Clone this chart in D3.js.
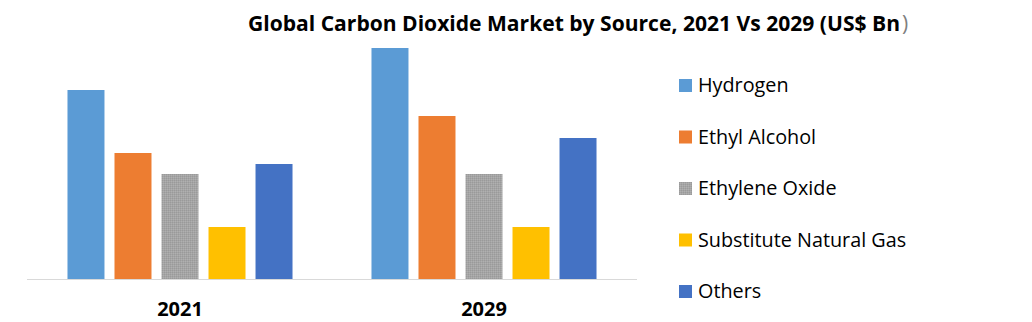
<!DOCTYPE html>
<html>
<head>
<meta charset="utf-8">
<script src="https://cdn.jsdelivr.net/npm/d3@7"></script>
<style>
  body { margin: 0; background: #fff; }
  svg text { font-family: "Open Sans", Lato, sans-serif; }
</style>
</head>
<body>
<div id="vis"></div>
<script>
// chart data (no axis so values are relative)
var years = ['2021', '2029'];
var sources = ['Hydrogen', 'Ethyl Alcohol', 'Ethylene Oxide', 'Substitute Natural Gas', 'Others'];
var values2021 = [189, 126, 105, 52, 115];
var values2029 = [231, 163, 105, 52, 141];
var colors = ['#5b9bd5', '#ed7d31', '#a5a5a5', '#ffc000', '#4472c4'];

var width = 1032;
var height = 322;
var baseY = 279;

var svg = d3.select('#vis')
  .append('svg')
  .attr('width', width)
  .attr('height', height);

// build rows from the arrays
var rows = years.map(function(y, i) {
  var vals = i === 0 ? values2021 : values2029;
  return { year: y, items: sources.map(function(s, j) { return { source: s, value: vals[j] }; }) };
});

var x0 = d3.scaleBand().domain(years).range([28, 636]);
var x1 = d3.scaleBand().domain(sources).range([0, x0.bandwidth()])
  .paddingInner(0.213).paddingOuter(0.84);
var y = d3.scaleLinear().domain([0, 231]).range([baseY, 48]);
var color = d3.scaleOrdinal().domain(sources).range(colors);

// stipple pattern for the gray bar
var defs = svg.append('defs');
var pat = defs.append('pattern')
  .attr('id', 'grayDots')
  .attr('width', 2).attr('height', 2)
  .attr('patternUnits', 'userSpaceOnUse');
pat.append('rect').attr('width', 2).attr('height', 2).attr('fill', '#a5a5a5');
pat.append('rect').attr('width', 1).attr('height', 1).attr('fill', '#9a9a9a');
pat.append('rect').attr('x', 1).attr('y', 1).attr('width', 1).attr('height', 1).attr('fill', '#b0b0b0');

function fillFor(s) {
  return s === 'Ethylene Oxide' ? 'url(#grayDots)' : color(s);
}

// title
svg.append('text')
  .attr('x', 248)
  .attr('y', 31)
  .attr('font-size', 21)
  .attr('font-weight', 'bold')
  .attr('fill', '#000')
  .attr('textLength', 652)
  .attr('lengthAdjust', 'spacingAndGlyphs')
  .text('Global Carbon Dioxide Market by Source, 2021 Vs 2029 (US$ Bn');
svg.append('text')
  .attr('x', 902)
  .attr('y', 31)
  .attr('font-size', 21)
  .attr('fill', '#7f7f7f')
  .text(')');

// bars
var groups = svg.selectAll('.group')
  .data(rows)
  .enter().append('g')
  .attr('class', 'group')
  .attr('transform', function(d) { return 'translate(' + x0(d.year) + ',0)'; });

groups.selectAll('rect')
  .data(function(d) { return d.items; })
  .enter().append('rect')
  .attr('x', function(d) { return x1(d.source); })
  .attr('y', function(d) { return y(d.value); })
  .attr('width', x1.bandwidth())
  .attr('height', function(d) { return baseY - y(d.value); })
  .attr('fill', function(d) { return fillFor(d.source); });

// baseline
svg.append('line')
  .attr('x1', 27).attr('x2', 637)
  .attr('y1', baseY + 0.5).attr('y2', baseY + 0.5)
  .attr('stroke', '#d9d9d9')
  .attr('stroke-width', 1);

// category labels
svg.selectAll('.cat')
  .data(years)
  .enter().append('text')
  .attr('class', 'cat')
  .attr('x', function(d) { return x0(d) + x0.bandwidth() / 2; })
  .attr('y', 316)
  .attr('text-anchor', 'middle')
  .attr('font-size', 20)
  .attr('font-weight', 'bold')
  .attr('fill', '#000')
  .text(function(d) { return d; });

// legend
var legend = svg.selectAll('.legend')
  .data(sources)
  .enter().append('g')
  .attr('class', 'legend')
  .attr('transform', function(d, i) { return 'translate(679,' + (79 + i * 51.5) + ')'; });

legend.append('rect')
  .attr('width', 13).attr('height', 13)
  .attr('fill', function(d) { return fillFor(d); });

legend.append('text')
  .attr('x', 19)
  .attr('y', 13)
  .attr('font-size', 19.8)
  .attr('fill', '#000')
  .text(function(d) { return d; });
</script>
</body>
</html>
